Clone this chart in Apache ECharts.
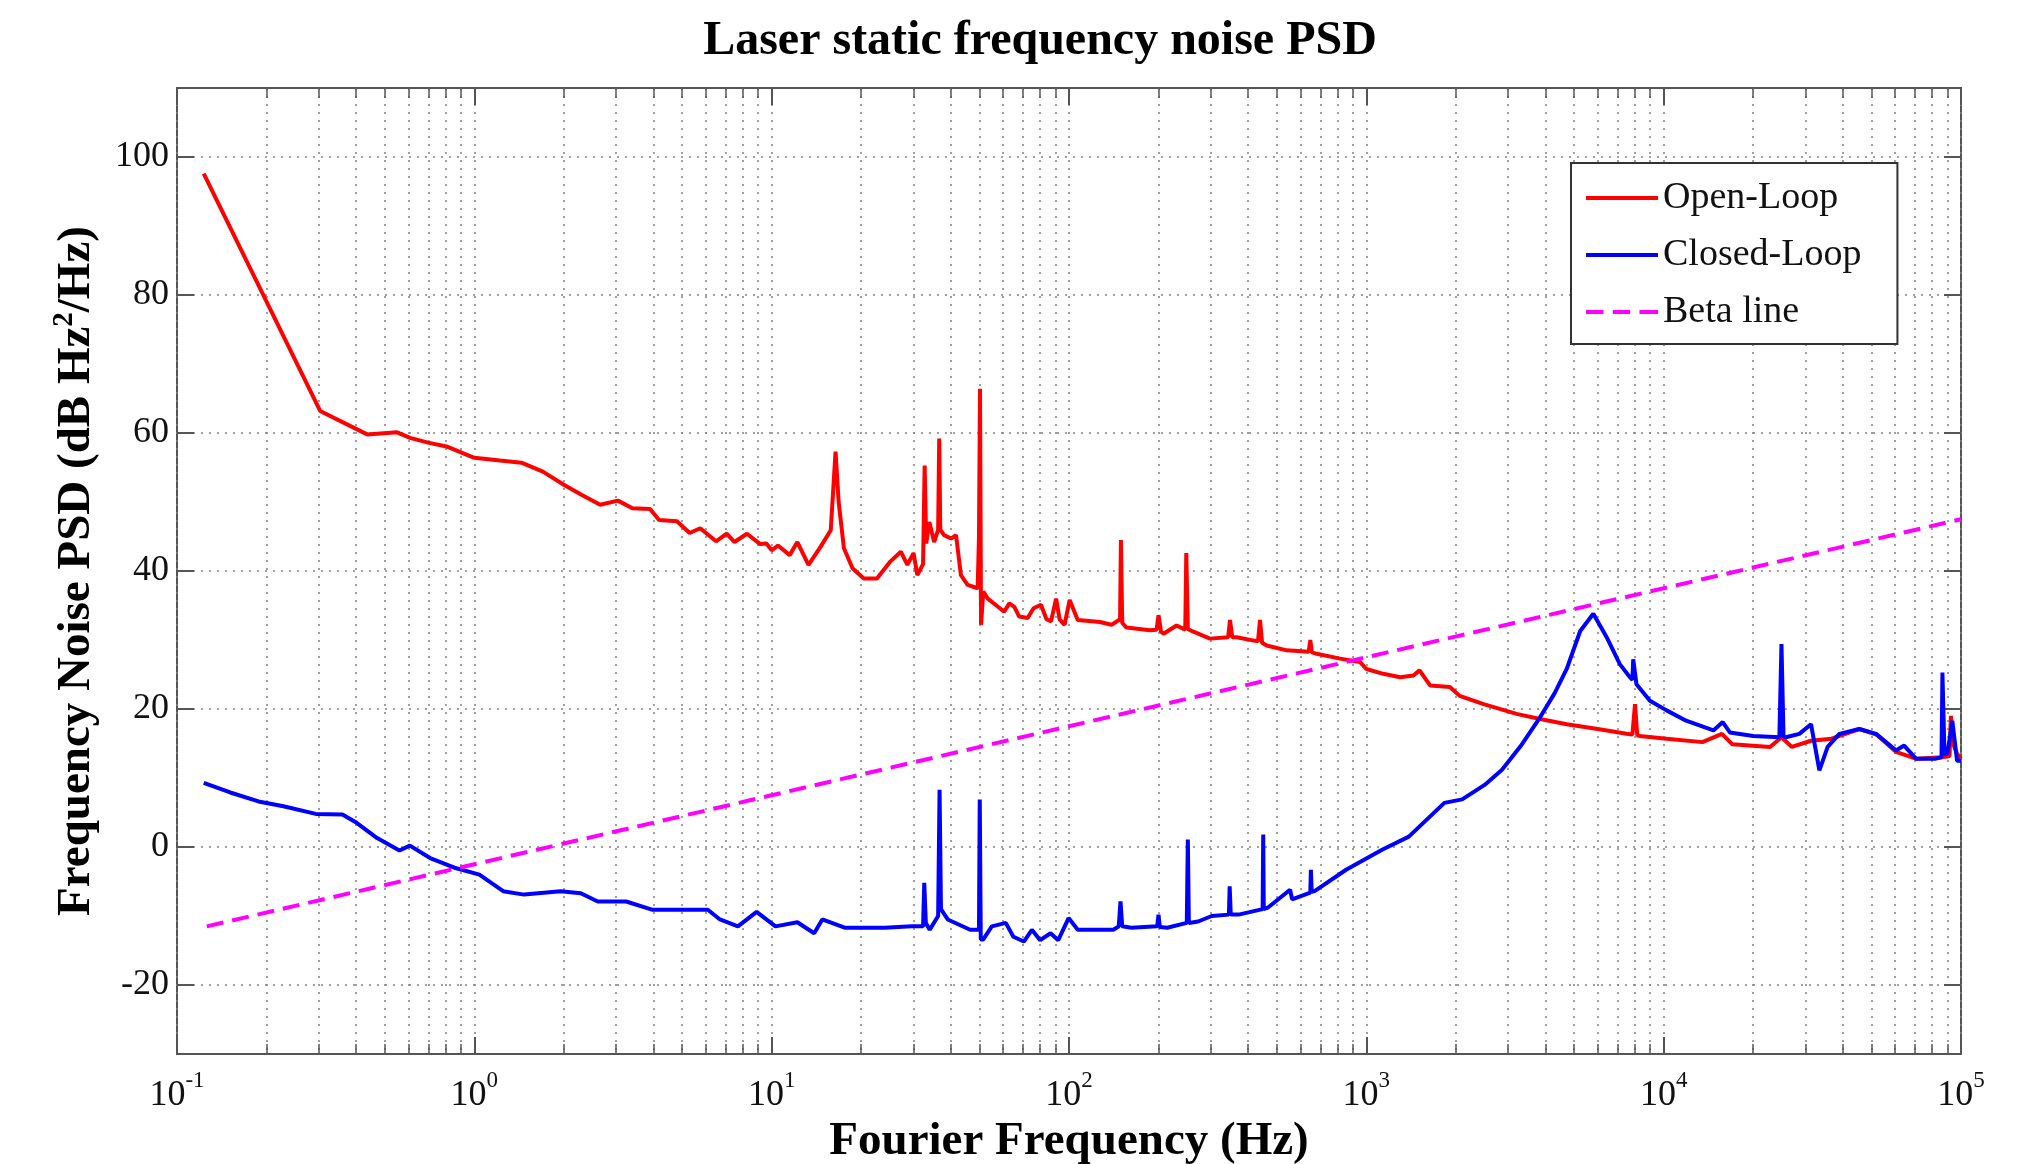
<!DOCTYPE html>
<html>
<head>
<meta charset="utf-8">
<title>Laser static frequency noise PSD</title>
<script src="https://cdn.jsdelivr.net/npm/echarts@6/dist/echarts.min.js"></script>
<style>
  html, body { margin: 0; padding: 0; background: #fff; }
  #chart { width: 2028px; height: 1164px; }
</style>
</head>
<body>
<div id="chart"></div>
<script>
// [frequency Hz, PSD dB Hz^2/Hz]
const openLoop = [
  [0.123, 97.6], [0.303, 63.2], [0.436, 59.8], [0.55, 60.1], [0.608, 59.3], [0.699, 58.6],
  [0.813, 58.0], [1.0, 56.4], [1.22, 56.0], [1.44, 55.7], [1.7, 54.4], [2.0, 52.5],
  [2.3, 51.0], [2.65, 49.6], [3.04, 50.2], [3.4, 49.1], [3.9, 49.0], [4.18, 47.4],
  [4.8, 47.2], [5.3, 45.5], [5.75, 46.2], [6.5, 44.3], [7.06, 45.4], [7.5, 44.2],
  [8.26, 45.4], [9.15, 43.9], [9.6, 44.0], [10, 43.0], [10.5, 43.7], [11.5, 42.3],
  [12.2, 44.2], [13.3, 40.9], [14.6, 43.5], [15.8, 45.9], [16.4, 57.3], [16.8, 50.0],
  [17.5, 43.3], [18.7, 40.4], [20.4, 38.9], [22.6, 38.9], [25.1, 41.4], [27.2, 42.8],
  [28.6, 40.9], [30.0, 42.6], [30.9, 39.4], [32.3, 41.0], [32.7, 55.3], [33.1, 44.0],
  [33.9, 47.1], [35.2, 44.2], [36.3, 46.0], [36.6, 59.2], [36.9, 46.0], [38.0, 45.2],
  [40.1, 44.7], [41.7, 45.2], [43.3, 39.4], [45.6, 38.0], [49.3, 37.5], [49.8, 45.0],
  [50.2, 66.4], [50.6, 32.2], [51.5, 37.0], [53.3, 36.0], [57, 35.0], [60.5, 34.1],
  [63, 35.3], [65.5, 34.8], [68, 33.4], [72.6, 33.2], [76, 34.6], [80.5, 35.1],
  [84, 33.0], [87, 32.7], [90.5, 36.0], [93, 33.0], [96.6, 32.2], [100.5, 35.8],
  [107, 32.9], [127, 32.6], [139, 32.2], [148.5, 33.0], [149.5, 44.5], [151, 32.5],
  [156, 31.8], [187, 31.4], [197, 31.5], [200, 33.6], [204, 31.2], [208, 30.9],
  [230, 32.1], [246, 31.5], [248, 42.6], [251, 31.6], [262, 31.2], [298, 30.2],
  [343, 30.4], [348, 32.9], [354, 30.4], [366, 30.4], [432, 29.8], [439, 32.9],
  [446, 29.6], [462, 29.2], [540, 28.5], [640, 28.3], [648, 30.0], [656, 28.2],
  [681, 28.0], [816, 27.3], [953, 26.8], [1000, 25.8], [1140, 25.1], [1300, 24.6],
  [1440, 24.85], [1510, 25.6], [1640, 23.4], [1910, 23.2], [2060, 21.9], [2480, 20.7],
  [3200, 19.3], [3840, 18.55], [4720, 17.8], [6000, 17.1], [7500, 16.4], [7850, 16.3],
  [8010, 20.7], [8150, 16.2], [8300, 16.1], [10230, 15.7], [13500, 15.2], [15700, 16.4],
  [17000, 14.9], [22800, 14.5], [24900, 15.9], [27000, 14.5], [31300, 15.4], [36700, 15.7],
  [45500, 17.1], [52000, 16.3], [60400, 13.8], [70500, 12.8], [86600, 13.0], [91500, 13.2],
  [92500, 19.0], [94000, 15.0], [97000, 13.5], [100000, 12.8]
];

const closedLoop = [
  [0.123, 9.3], [0.151, 7.9], [0.188, 6.6], [0.228, 5.9], [0.293, 4.8], [0.36, 4.7],
  [0.402, 3.5], [0.471, 1.3], [0.56, -0.5], [0.607, 0.2], [0.71, -1.6], [0.857, -3.0],
  [1.04, -4.0], [1.25, -6.4], [1.47, -6.9], [1.95, -6.4], [2.28, -6.7], [2.6, -7.9],
  [3.24, -7.9], [3.98, -9.1], [5.04, -9.1], [6.1, -9.1], [6.7, -10.5], [7.7, -11.5],
  [8.9, -9.4], [10.3, -11.5], [12.2, -10.9], [13.9, -12.5], [14.8, -10.5], [17.6, -11.7],
  [24, -11.7], [29.6, -11.5], [32.3, -11.5], [32.6, -5.2], [33.0, -11.0], [34, -12.0],
  [36.3, -10.0], [36.7, 8.3], [37.1, -9.0], [39.1, -10.5], [46.5, -12.0], [49.8, -12.0],
  [50.1, 6.9], [50.5, -13.4], [51.5, -13.4], [55, -11.5], [61.3, -11.0], [65, -13.0],
  [70.5, -13.7], [75, -12.0], [80, -13.5], [86.7, -12.5], [92, -13.5], [99.7, -10.3],
  [107, -12.0], [141, -12.0], [147, -11.5], [149, -7.9], [151, -11.5], [162, -11.7],
  [198, -11.5], [200, -9.8], [202, -11.6], [214, -11.7], [249, -11.0], [251, 1.1],
  [253, -11.0], [272, -10.8], [302, -10.0], [345, -9.8], [347, -5.7], [350, -9.8],
  [372, -9.8], [448, -9.0], [450, 1.8], [452, -9.0], [466, -8.8], [554, -6.2],
  [563, -7.6], [648, -6.6], [651, -3.3], [655, -6.5], [670, -6.4], [855, -3.3],
  [1130, -0.4], [1390, 1.5], [1830, 6.4], [2100, 6.9], [2500, 9.0], [2860, 11.2],
  [3300, 14.6], [3840, 18.8], [4300, 22.3], [4720, 25.8], [5240, 31.3], [5800, 33.8],
  [6430, 30.4], [7120, 26.5], [7700, 24.6],
  [7850, 24.2], [7900, 27.2], [8100, 23.6], [8990, 21.2], [10230, 19.8], [11900, 18.3],
  [14700, 16.9], [15800, 18.1], [16700, 16.6], [20000, 16.1], [24500, 15.9], [24900, 29.4],
  [25300, 16.0], [25800, 15.9], [28600, 16.4], [31300, 17.8], [33400, 11.1], [35600, 14.5],
  [39000, 16.4], [45500, 17.1], [51800, 16.4], [60400, 14.0], [64400, 14.7], [70500, 12.8],
  [82300, 12.8], [86000, 13.0], [86600, 25.3], [88000, 13.5], [90000, 13.5], [93500, 18.3],
  [97000, 12.5], [100000, 12.5]
];

const betaLine = [[0.126, -11.5], [100000, 47.5]];

// axis ticks
const decades = [0.1, 1, 10, 100, 1000, 10000, 100000];
const minorSteps = [2, 3, 4, 5, 6, 7, 8, 9];
const yTicks = [-20, 0, 20, 40, 60, 80, 100];

const gridTicks = [];
decades.forEach(d => {
  gridTicks.push(d);
  if (d < 100000) minorSteps.forEach(m => gridTicks.push(d * m));
});

const FONT = "'Liberation Serif', 'Times New Roman', serif";
const frameColor = '#555';
const dotted = { type: [2, 6], color: '#808080', width: 1.5 };
const gridRect = { left: 177, top: 88, width: 1784, height: 966, outerBoundsMode: 'none', containLabel: false };

function logAxis(gridIndex, position, tickLen, ticks, extra) {
  return Object.assign({
    type: 'log', logBase: 10, min: 0.1, max: 100000,
    gridIndex, position,
    axisLine: { show: false, onZero: false },
    axisTick: { show: true, inside: true, length: tickLen, customValues: ticks,
      lineStyle: { color: frameColor, width: tickLen > 12 ? 2 : 1.5 } },
    axisLabel: { show: false },
    splitLine: { show: false },
    minorTick: { show: false }
  }, extra || {});
}

const chart = echarts.init(document.getElementById('chart'));

const option = {
  animation: false,
  backgroundColor: '#fff',
  title: {
    text: 'Laser static frequency noise PSD',
    left: 1035, top: 13, textAlign: 'center',
    textStyle: { fontFamily: FONT, fontSize: 48, fontWeight: 'bold', color: '#000' }
  },
  legend: {
    orient: 'vertical',
    left: 1571, top: 163,
    padding: [16, 36, 13, 15],
    itemGap: 19,
    itemWidth: 72, itemHeight: 4,
    symbolKeepAspect: false,
    backgroundColor: '#fff',
    borderColor: '#333', borderWidth: 2,
    textStyle: { fontFamily: FONT, fontSize: 38, color: '#111' },
    data: [
      { name: 'Open-Loop', icon: 'rect' },
      { name: 'Closed-Loop', icon: 'rect' },
      { name: 'Beta line', icon: 'path://M0,0h17v4H0z M26,0h17v4H26z M52,0h18v4H52z' }
    ]
  },
  grid: [
    Object.assign({ show: true, borderColor: frameColor, borderWidth: 2, backgroundColor: 'transparent' }, gridRect),
    Object.assign({ show: false }, gridRect)
  ],
  xAxis: [
    logAxis(0, 'bottom', 17, decades, {
      name: 'Fourier Frequency (Hz)',
      nameLocation: 'middle', nameGap: 64,
      nameTextStyle: { fontFamily: FONT, fontSize: 47, fontWeight: 'bold', color: '#000' },
      axisLabel: {
        show: true, customValues: decades, margin: 15,
        formatter: v => '{b|10}{s|' + Math.round(Math.log10(v)) + '}',
        rich: {
          b: { fontFamily: FONT, fontSize: 36, color: '#111' },
          s: { fontFamily: FONT, fontSize: 23, color: '#111', padding: [0, 0, 30, 0] }
        }
      }
    }),
    logAxis(0, 'top', 17, decades),
    logAxis(1, 'bottom', 10, gridTicks, { splitLine: { show: true, lineStyle: dotted } }),
    logAxis(1, 'top', 10, gridTicks)
  ],
  yAxis: [
    {
      type: 'value', gridIndex: 0, position: 'left', min: -30, max: 110,
      name: '{t|Frequency Noise PSD (dB Hz}{s|2}{t|/Hz)}',
      nameLocation: 'middle', nameGap: 74,
      nameTextStyle: {
        rich: {
          t: { fontFamily: FONT, fontSize: 47, fontWeight: 'bold', color: '#000' },
          s: { fontFamily: FONT, fontSize: 29, fontWeight: 'bold', color: '#000', padding: [0, 0, 24, 0] }
        }
      },
      axisLine: { show: false, onZero: false },
      axisTick: { show: true, inside: true, length: 17, customValues: yTicks,
        lineStyle: { color: frameColor, width: 2 } },
      axisLabel: { show: true, customValues: yTicks, margin: 8,
        fontFamily: FONT, fontSize: 36, color: '#111' },
      splitLine: { show: true, lineStyle: dotted }
    },
    {
      type: 'value', gridIndex: 0, position: 'right', min: -30, max: 110,
      axisLine: { show: false, onZero: false },
      axisTick: { show: true, inside: true, length: 17, customValues: yTicks,
        lineStyle: { color: frameColor, width: 2 } },
      axisLabel: { show: false },
      splitLine: { show: false }
    },
    {
      type: 'value', gridIndex: 1, min: -30, max: 110, show: false,
      splitLine: { show: false }
    }
  ],
  series: [
    {
      name: 'Open-Loop', type: 'line', xAxisIndex: 0, yAxisIndex: 0,
      data: openLoop, symbol: 'none', z: 3,
      lineStyle: { color: '#ff0000', width: 4 }, itemStyle: { color: '#ff0000' }
    },
    {
      name: 'Closed-Loop', type: 'line', xAxisIndex: 0, yAxisIndex: 0,
      data: closedLoop, symbol: 'none', z: 4,
      lineStyle: { color: '#0000ff', width: 4 }, itemStyle: { color: '#0000ff' }
    },
    {
      name: 'Beta line', type: 'line', xAxisIndex: 0, yAxisIndex: 0,
      data: betaLine, symbol: 'none', z: 5,
      lineStyle: { color: '#ff00ff', width: 4, type: [17, 9] }, itemStyle: { color: '#ff00ff' }
    }
  ]
};

chart.setOption(option);
</script>
</body>
</html>
